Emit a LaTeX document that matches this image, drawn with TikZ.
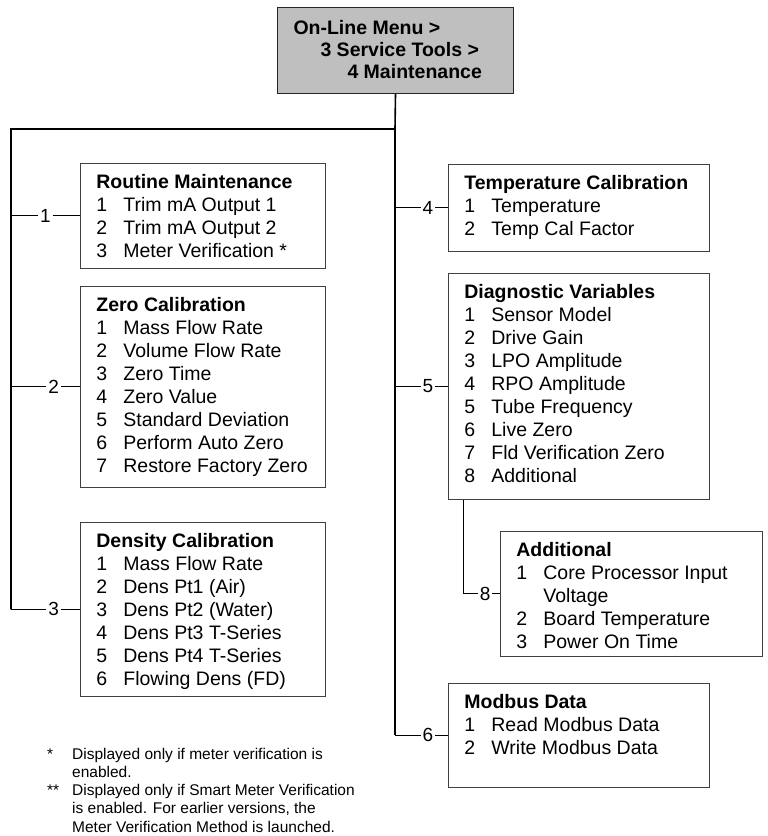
\documentclass[tikz,border=0pt]{standalone}
\usepackage{fontspec}
\setmainfont{Liberation Sans}
\usepackage{tikz}
\newcommand{\itm}[2]{\makebox[27pt][l]{#1}#2}
\newcommand{\menutext}[3]{\parbox[t][#2][t]{#1}{#3}}

\begin{document}
\begin{tikzpicture}[x=1pt, y=-1pt,
        menu/.style={draw=black!75, line width=0.8pt, anchor=north west, inner xsep=16pt, inner ysep=11pt, font=\fontsize{19.5}{23}\selectfont},
        trunk/.style={line width=1.6pt},
        branch/.style={line width=0.9pt},
        num/.style={fill=white, inner sep=2pt, font=\fontsize{19}{20}\selectfont, pos=0.62}]
        \useasboundingbox (0,0) rectangle (768,836);
        \node[menu, fill=gray!50, draw=black!85, line width=1pt, inner ysep=13pt, font=\bfseries\fontsize{19.5}{22}\selectfont] (top) at (277,7)
            {\menutext{204pt}{60pt}{On-Line Menu >\\\hspace*{27pt}3 Service Tools >\\\hspace*{54pt}4 Maintenance}};
        \node[menu] (routine) at (80,163) {\menutext{213pt}{83pt}{\textbf{Routine Maintenance}\\
            \itm{1}{Trim mA Output 1}\\\itm{2}{Trim mA Output 2}\\\itm{3}{Meter Verification *}}};
        \node[menu] (zero) at (80,286) {\menutext{213pt}{179pt}{\textbf{Zero Calibration}\\
            \itm{1}{Mass Flow Rate}\\\itm{2}{Volume Flow Rate}\\\itm{3}{Zero Time}\\\itm{4}{Zero Value}\\
            \itm{5}{Standard Deviation}\\\itm{6}{Perform Auto Zero}\\\itm{7}{Restore Factory Zero}}};
        \node[menu] (density) at (80,522) {\menutext{213pt}{152pt}{\textbf{Density Calibration}\\
            \itm{1}{Mass Flow Rate}\\\itm{2}{Dens Pt1 (Air)}\\\itm{3}{Dens Pt2 (Water)}\\
            \itm{4}{Dens Pt3 T-Series}\\\itm{5}{Dens Pt4 T-Series}\\\itm{6}{Flowing Dens (FD)}}};
        \node[menu] (temp) at (448,164) {\menutext{229pt}{65pt}{\textbf{Temperature Calibration}\\
            \itm{1}{Temperature}\\\itm{2}{Temp Cal Factor}}};
        \node[menu] (diag) at (448,273) {\menutext{229pt}{204pt}{\textbf{Diagnostic Variables}\\
            \itm{1}{Sensor Model}\\\itm{2}{Drive Gain}\\\itm{3}{LPO Amplitude}\\\itm{4}{RPO Amplitude}\\
            \itm{5}{Tube Frequency}\\\itm{6}{Live Zero}\\\itm{7}{Fld Verification Zero}\\\itm{8}{Additional}}};
        \node[menu] (addl) at (500,531) {\menutext{230pt}{103pt}{\textbf{Additional}\\
            \itm{1}{Core Processor Input}\\\hspace*{27pt}Voltage\\\itm{2}{Board Temperature}\\\itm{3}{Power On Time}}};
        \node[menu] (modbus) at (448,683) {\menutext{229pt}{82pt}{\textbf{Modbus Data}\\
            \itm{1}{Read Modbus Data}\\\itm{2}{Write Modbus Data}}};
        \node[anchor=north west, inner sep=0pt, font=\fontsize{15.5}{18.3}\selectfont] (notes) at (47,746)
            {\begin{tabular}{@{}p{25pt}@{}l@{}}
            * & Displayed only if meter verification is\\
              & enabled.\\
            {**} & Displayed only if Smart Meter Verification\\
              & is enabled. For earlier versions, the\\
              & Meter Verification Method is launched.
            \end{tabular}};
        \coordinate (split) at (395,129);
        \coordinate (lft) at (11,129);
        \draw[trunk] (top.south) -- (split) -- (lft) -- (lft |- density.west);
        \draw[trunk] (split) -- (split |- modbus.west);
        \draw[branch] (lft |- routine.west) -- node[num, pos=0.5] {1} (routine.west);
        \draw[branch] (lft |- zero.west) -- node[num] {2} (zero.west);
        \draw[branch] (lft |- density.west) -- node[num] {3} (density.west);
        \draw[branch] (split |- temp.west) -- node[num] {4} (temp.west);
        \draw[branch] (split |- diag.west) -- node[num] {5} (diag.west);
        \draw[branch] (split |- modbus.west) -- node[num] {6} (modbus.west);
        \draw[branch] ([xshift=15pt]diag.south west) |- node[num, pos=0.8] {8} (addl.west);
    \end{tikzpicture}
\end{document}
